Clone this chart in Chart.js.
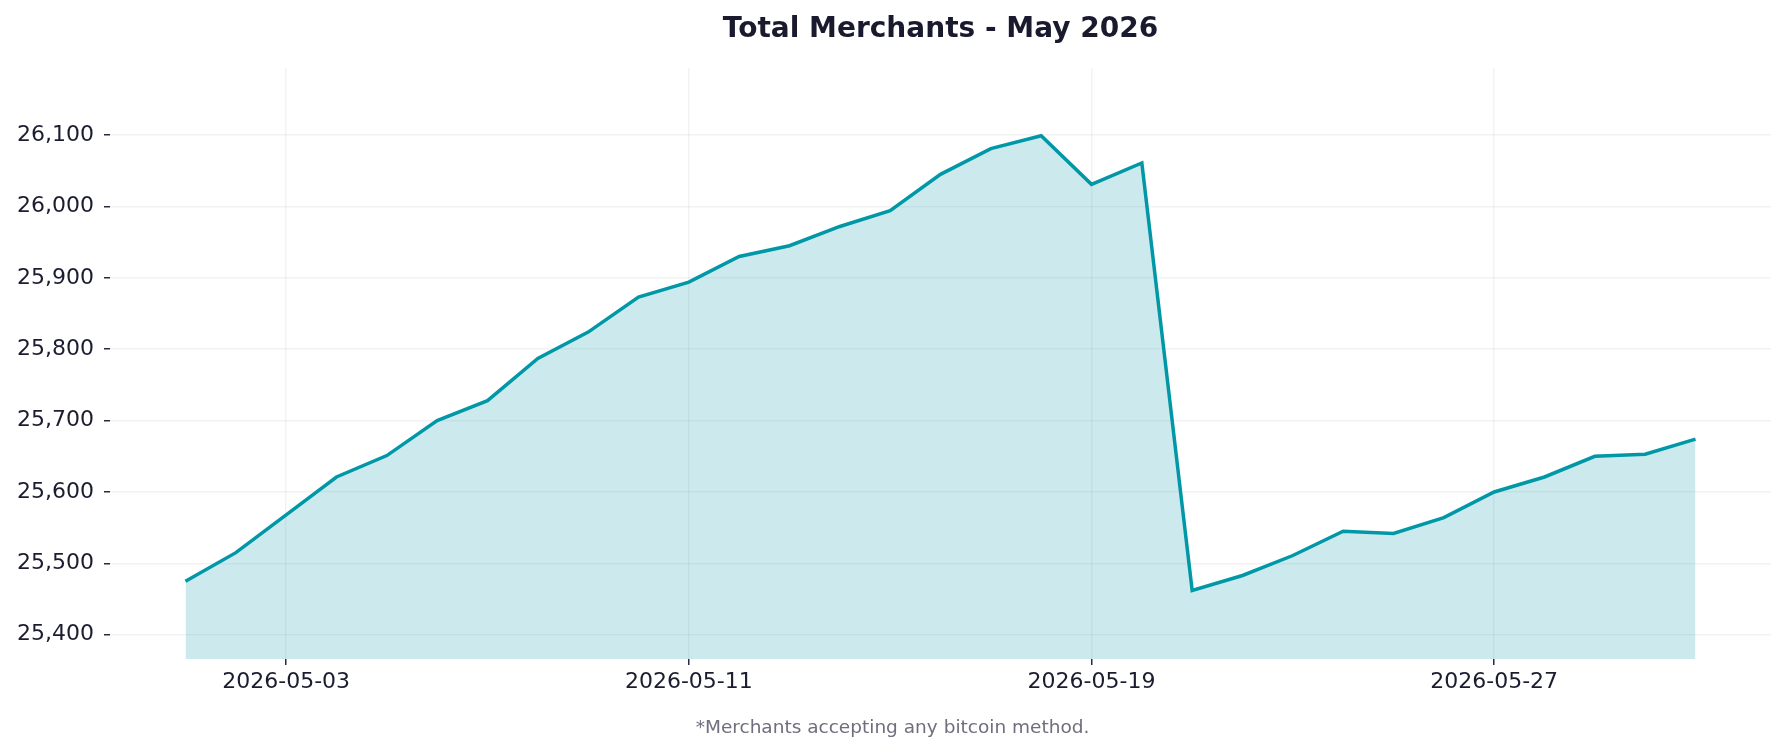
<!DOCTYPE html>
<html>
<head>
<meta charset="utf-8">
<title>Total Merchants - May 2026</title>
<script src="https://cdn.jsdelivr.net/npm/chart.js@4.4.1/dist/chart.umd.min.js"></script>
<style>
    html, body { margin: 0; padding: 0; background: #ffffff; }
    canvas { display: block; }
</style>
</head>
<body>
<canvas id="merchantsChart" width="1785" height="753"></canvas>
<script>
// daily totals for May 2026
const dates = [
    '2026-05-01', '2026-05-02', '2026-05-03', '2026-05-04', '2026-05-05', '2026-05-06',
    '2026-05-07', '2026-05-08', '2026-05-09', '2026-05-10', '2026-05-11', '2026-05-12',
    '2026-05-13', '2026-05-14', '2026-05-15', '2026-05-16', '2026-05-17', '2026-05-18',
    '2026-05-19', '2026-05-20', '2026-05-21', '2026-05-22', '2026-05-23', '2026-05-24',
    '2026-05-25', '2026-05-26', '2026-05-27', '2026-05-28', '2026-05-29', '2026-05-30',
    '2026-05-31'
];
const merchants = [
    25475, 25515, 25568, 25621, 25651, 25700,
    25728, 25787, 25824, 25873, 25894, 25930,
    25945, 25972, 25994, 26045, 26081, 26099,
    26031, 26061, 25462, 25483, 25511, 25545,
    25542, 25564, 25600, 25621, 25650, 25653,
    25674
];
const xTickLabels = ['2026-05-03', '2026-05-11', '2026-05-19', '2026-05-27'];
const yTickValues = [25400, 25500, 25600, 25700, 25800, 25900, 26000, 26100];

const titleText = 'Total Merchants - May 2026';
const footnoteText = '*Merchants accepting any bitcoin method.';

const lineColor = '#0097a7';
const fillColor = 'rgba(0, 151, 167, 0.2)';
const textColor = '#1c1c30';
const fontFamily = "'DejaVu Sans', 'Liberation Sans', sans-serif";

const dayOf = d => parseInt(d.slice(8), 10);
const points = dates.map((d, i) => ({ x: dayOf(d), y: merchants[i] }));

// title centred over the plot, footnote centred on the page
const textPlugin = {
    id: 'pageText',
    afterDraw(chart) {
        const ctx = chart.ctx;
        const area = chart.chartArea;
        ctx.save();
        ctx.textAlign = 'center';
        ctx.textBaseline = 'alphabetic';
        ctx.fillStyle = '#1a1a2e';
        ctx.font = 'bold 28px ' + fontFamily;
        ctx.fillText(titleText, (area.left + area.right) / 2, 37);
        ctx.fillStyle = '#6e6e7e';
        ctx.font = '18.5px ' + fontFamily;
        ctx.fillText(footnoteText, chart.width / 2, 733);
        ctx.restore();
    }
};

const chart = new Chart(document.getElementById('merchantsChart'), {
    type: 'line',
    data: {
        datasets: [{
            label: 'Total Merchants',
            data: points,
            borderColor: lineColor,
            backgroundColor: fillColor,
            borderWidth: 3.5,
            fill: 'start',
            pointRadius: 0,
            tension: 0
        }]
    },
    options: {
        responsive: false,
        animation: false,
        layout: { padding: { top: 68, left: 0, right: 14, bottom: 34 } },
        plugins: {
            legend: { display: false },
            title: { display: false },
            tooltip: { enabled: false }
        },
        scales: {
            x: {
                type: 'linear',
                min: dayOf(dates[0]) - 1.5,
                max: dayOf(dates[dates.length - 1]) + 1.5,
                border: { display: false },
                grid: {
                    color: 'rgba(0, 0, 0, 0.05)',
                    lineWidth: 1.5,
                    tickColor: '#2a2a3e',
                    tickWidth: 1.5,
                    tickLength: 6
                },
                ticks: {
                    color: textColor,
                    font: { family: fontFamily, size: 22 },
                    padding: 4,
                    maxRotation: 0,
                    callback: value => xTickLabels.find(l => dayOf(l) === value) || ''
                },
                afterBuildTicks: scale => {
                    scale.ticks = xTickLabels.map(l => ({ value: dayOf(l) }));
                },
                afterFit: scale => { scale.height = 60; }
            },
            y: {
                min: 25366,
                max: 26194,
                border: { display: false },
                grid: {
                    color: 'rgba(0, 0, 0, 0.05)',
                    lineWidth: 1.5,
                    tickColor: '#2a2a3e',
                    tickWidth: 1.5,
                    tickLength: 6
                },
                ticks: {
                    color: textColor,
                    font: { family: fontFamily, size: 22 },
                    padding: 10,
                    callback: value => value.toLocaleString('en-US')
                },
                afterBuildTicks: scale => {
                    scale.ticks = yTickValues.map(v => ({ value: v }));
                },
                afterFit: scale => { scale.width = 110; }
            }
        }
    },
    plugins: [textPlugin]
});
</script>
</body>
</html>
